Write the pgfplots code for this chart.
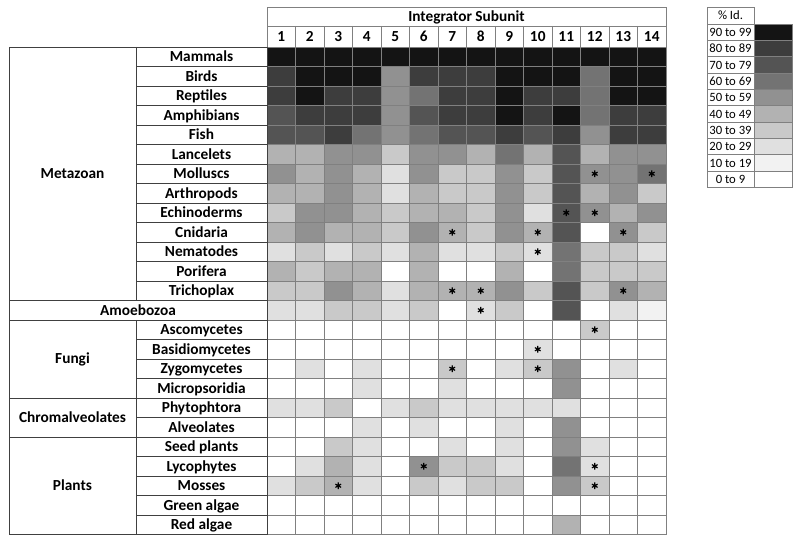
\documentclass[border=0pt]{standalone}
\usepackage{fontspec}
\setmainfont{Carlito}
\usepackage{pgfplots}
\usepackage{pgfplotstable}
\pgfplotsset{compat=1.18}

% grey shades of the % identity classes, lv0 = 0 to 9 ... lv9 = 90 to 99
\definecolor{lv0}{gray}{1.00}
\definecolor{lv1}{gray}{0.95}
\definecolor{lv2}{gray}{0.88}
\definecolor{lv3}{gray}{0.79}
\definecolor{lv4}{gray}{0.70}
\definecolor{lv5}{gray}{0.57}
\definecolor{lv6}{gray}{0.45}
\definecolor{lv7}{gray}{0.33}
\definecolor{lv8}{gray}{0.24}
\definecolor{lv9}{gray}{0.08}
\definecolor{gridc}{gray}{0.50}
\definecolor{tabc}{gray}{0.25}

% cells marked with an asterisk: subunit, taxon row
\pgfplotstableread{
c r
12 7
14 7
11 9
12 9
7 10
10 10
13 10
10 11
7 13
8 13
13 13
8 14
12 15
10 16
7 17
10 17
6 22
12 22
3 23
12 23
}\stars

\tikzset{
  lab/.style={font=\fontsize{11.5}{13}\selectfont\bfseries, inner sep=0pt, text height=7.5pt, text depth=0pt},
  leg/.style={font=\fontsize{9.5}{11}\selectfont, inner sep=0pt, text height=6.2pt, text depth=0pt},
}

\begin{document}
\begin{tikzpicture}
\begin{axis}[
  width=600pt, height=405.75pt, scale only axis,
  xmin=0, xmax=800, ymin=0, ymax=541, y dir=reverse,
  hide axis, clip=false,
  colormap={idgray}{color=(lv0) color=(lv1) color=(lv2) color=(lv3) color=(lv4)
    color=(lv5) color=(lv6) color=(lv7) color=(lv8) color=(lv9)},
  point meta min=0, point meta max=9,
]
% (subunit, taxon row) [identity class]
\addplot[matrix plot*, mesh/cols=14, point meta=explicit,
  x filter/.expression={267+28.5*(x-0.5)}, y filter/.expression={47+19.5*(y-0.5)}]
  coordinates {
(1,1)[9] (2,1)[9] (3,1)[9] (4,1)[9] (5,1)[9] (6,1)[9] (7,1)[9] (8,1)[9] (9,1)[9] (10,1)[9] (11,1)[9] (12,1)[9] (13,1)[9] (14,1)[9]
(1,2)[8] (2,2)[9] (3,2)[9] (4,2)[9] (5,2)[5] (6,2)[8] (7,2)[8] (8,2)[8] (9,2)[9] (10,2)[9] (11,2)[9] (12,2)[6] (13,2)[9] (14,2)[9]
(1,3)[8] (2,3)[9] (3,3)[8] (4,3)[8] (5,3)[5] (6,3)[6] (7,3)[8] (8,3)[8] (9,3)[9] (10,3)[8] (11,3)[8] (12,3)[6] (13,3)[9] (14,3)[9]
(1,4)[7] (2,4)[8] (3,4)[8] (4,4)[8] (5,4)[5] (6,4)[7] (7,4)[8] (8,4)[8] (9,4)[9] (10,4)[8] (11,4)[9] (12,4)[6] (13,4)[8] (14,4)[8]
(1,5)[7] (2,5)[7] (3,5)[8] (4,5)[6] (5,5)[5] (6,5)[6] (7,5)[7] (8,5)[7] (9,5)[8] (10,5)[7] (11,5)[8] (12,5)[5] (13,5)[8] (14,5)[8]
(1,6)[4] (2,6)[4] (3,6)[5] (4,6)[5] (5,6)[3] (6,6)[5] (7,6)[5] (8,6)[4] (9,6)[6] (10,6)[4] (11,6)[7] (12,6)[4] (13,6)[5] (14,6)[5]
(1,7)[5] (2,7)[4] (3,7)[5] (4,7)[4] (5,7)[2] (6,7)[5] (7,7)[3] (8,7)[3] (9,7)[5] (10,7)[3] (11,7)[7] (12,7)[5] (13,7)[5] (14,7)[6]
(1,8)[4] (2,8)[4] (3,8)[5] (4,8)[4] (5,8)[2] (6,8)[4] (7,8)[3] (8,8)[3] (9,8)[5] (10,8)[3] (11,8)[7] (12,8)[4] (13,8)[5] (14,8)[3]
(1,9)[3] (2,9)[5] (3,9)[5] (4,9)[4] (5,9)[3] (6,9)[4] (7,9)[4] (8,9)[3] (9,9)[5] (10,9)[2] (11,9)[7] (12,9)[5] (13,9)[4] (14,9)[5]
(1,10)[4] (2,10)[5] (3,10)[4] (4,10)[4] (5,10)[3] (6,10)[5] (7,10)[4] (8,10)[3] (9,10)[5] (10,10)[4] (11,10)[7] (12,10)[0] (13,10)[5] (14,10)[3]
(1,11)[2] (2,11)[3] (3,11)[2] (4,11)[3] (5,11)[2] (6,11)[4] (7,11)[2] (8,11)[2] (9,11)[3] (10,11)[2] (11,11)[6] (12,11)[3] (13,11)[3] (14,11)[2]
(1,12)[4] (2,12)[3] (3,12)[4] (4,12)[4] (5,12)[0] (6,12)[4] (7,12)[0] (8,12)[0] (9,12)[4] (10,12)[0] (11,12)[6] (12,12)[3] (13,12)[3] (14,12)[3]
(1,13)[3] (2,13)[3] (3,13)[5] (4,13)[4] (5,13)[2] (6,13)[4] (7,13)[4] (8,13)[4] (9,13)[5] (10,13)[3] (11,13)[7] (12,13)[3] (13,13)[5] (14,13)[4]
(1,14)[2] (2,14)[2] (3,14)[3] (4,14)[3] (5,14)[2] (6,14)[3] (7,14)[0] (8,14)[2] (9,14)[3] (10,14)[0] (11,14)[7] (12,14)[0] (13,14)[2] (14,14)[1]
(1,15)[0] (2,15)[0] (3,15)[0] (4,15)[0] (5,15)[0] (6,15)[0] (7,15)[0] (8,15)[0] (9,15)[0] (10,15)[0] (11,15)[0] (12,15)[3] (13,15)[0] (14,15)[0]
(1,16)[0] (2,16)[0] (3,16)[0] (4,16)[0] (5,16)[0] (6,16)[0] (7,16)[0] (8,16)[0] (9,16)[0] (10,16)[2] (11,16)[0] (12,16)[0] (13,16)[0] (14,16)[0]
(1,17)[0] (2,17)[2] (3,17)[0] (4,17)[2] (5,17)[0] (6,17)[0] (7,17)[3] (8,17)[0] (9,17)[2] (10,17)[3] (11,17)[5] (12,17)[0] (13,17)[2] (14,17)[0]
(1,18)[0] (2,18)[0] (3,18)[0] (4,18)[2] (5,18)[0] (6,18)[0] (7,18)[2] (8,18)[0] (9,18)[0] (10,18)[0] (11,18)[5] (12,18)[0] (13,18)[0] (14,18)[0]
(1,19)[2] (2,19)[2] (3,19)[3] (4,19)[0] (5,19)[2] (6,19)[3] (7,19)[2] (8,19)[2] (9,19)[2] (10,19)[2] (11,19)[2] (12,19)[0] (13,19)[0] (14,19)[0]
(1,20)[0] (2,20)[0] (3,20)[0] (4,20)[2] (5,20)[0] (6,20)[2] (7,20)[0] (8,20)[0] (9,20)[2] (10,20)[0] (11,20)[5] (12,20)[0] (13,20)[0] (14,20)[0]
(1,21)[0] (2,21)[0] (3,21)[3] (4,21)[2] (5,21)[0] (6,21)[0] (7,21)[2] (8,21)[0] (9,21)[2] (10,21)[0] (11,21)[5] (12,21)[2] (13,21)[0] (14,21)[0]
(1,22)[0] (2,22)[2] (3,22)[4] (4,22)[2] (5,22)[0] (6,22)[5] (7,22)[3] (8,22)[3] (9,22)[2] (10,22)[0] (11,22)[6] (12,22)[2] (13,22)[0] (14,22)[0]
(1,23)[2] (2,23)[3] (3,23)[4] (4,23)[2] (5,23)[0] (6,23)[3] (7,23)[2] (8,23)[3] (9,23)[3] (10,23)[0] (11,23)[5] (12,23)[3] (13,23)[0] (14,23)[0]
(1,24)[0] (2,24)[0] (3,24)[0] (4,24)[0] (5,24)[0] (6,24)[0] (7,24)[0] (8,24)[0] (9,24)[0] (10,24)[0] (11,24)[0] (12,24)[0] (13,24)[0] (14,24)[0]
(1,25)[0] (2,25)[0] (3,25)[0] (4,25)[0] (5,25)[0] (6,25)[0] (7,25)[0] (8,25)[0] (9,25)[0] (10,25)[0] (11,25)[4] (12,25)[0] (13,25)[0] (14,25)[0]
};

\addplot[only marks, mark=asterisk, mark size=2.5pt, mark options={line width=0.9pt, black},
  x filter/.expression={267+28.5*(x-0.5)}, y filter/.expression={47+19.5*(y-0.5)}]
  table[x=c, y=r] {\stars};

\pgfplotsextra{
  \path (axis cs:0,0) rectangle (axis cs:800,541);
  % heat map grid and header
  \foreach \i in {0,...,14}
    \draw[gridc, line width=0.6pt] (axis cs:{267+28.5*\i},26) -- (axis cs:{267+28.5*\i},534.5);
  \foreach \j in {0,...,25}
    \draw[gridc, line width=0.6pt] (axis cs:267,{47+19.5*\j}) -- (axis cs:666,{47+19.5*\j});
  \draw[gridc, line width=0.6pt] (axis cs:267,7.3) rectangle (axis cs:666,26);
  \node[lab] at (axis cs:466.5,16.6) {Integrator Subunit};
  \foreach \i in {1,...,14}
    \node[lab] at (axis cs:{267+28.5*(\i-0.5)},36.5) {\i};
  % taxon table
  \foreach \j in {0,...,25}
    \draw[tabc, line width=0.6pt] (axis cs:136,{47+19.5*\j}) -- (axis cs:267,{47+19.5*\j});
  \foreach \y in {47,300.5,320,398,437,534.5}
    \draw[tabc, line width=0.6pt] (axis cs:9,\y) -- (axis cs:136,\y);
  \draw[tabc, line width=0.6pt] (axis cs:9,47) -- (axis cs:9,534.5);
  \draw[tabc, line width=0.6pt] (axis cs:136,47) -- (axis cs:136,300.5);
  \draw[tabc, line width=0.6pt] (axis cs:136,320) -- (axis cs:136,534.5);
  \draw[tabc, line width=0.6pt] (axis cs:267,47) -- (axis cs:267,534.5);
  \foreach \j/\n in {1/Mammals,2/Birds,3/Reptiles,4/Amphibians,5/Fish,6/Lancelets,
      7/Molluscs,8/Arthropods,9/Echinoderms,10/Cnidaria,11/Nematodes,12/Porifera,
      13/Trichoplax,15/Ascomycetes,16/Basidiomycetes,17/Zygomycetes,18/Micropsoridia,
      19/Phytophtora,20/Alveolates,21/Seed plants,22/Lycophytes,23/Mosses,
      24/Green algae,25/Red algae}
    \node[lab] at (axis cs:201.5,{47+19.5*(\j-0.5)}) {\n};
  \node[lab] at (axis cs:72.5,173.75) {Metazoan};
  \node[lab] at (axis cs:138,310.25) {Amoebozoa};
  \node[lab] at (axis cs:72.5,359) {Fungi};
  \node[lab] at (axis cs:72.5,417.5) {Chromalveolates};
  \node[lab] at (axis cs:72.5,485.75) {Plants};
  % key
  \draw[gridc, line width=0.6pt] (axis cs:707,7.3) rectangle (axis cs:754,24);
  \node[leg] at (axis cs:730.5,15.6) {\% Id.};
  \foreach \k/\c/\t in {0/9/90 to 99,1/8/80 to 89,2/7/70 to 79,3/6/60 to 69,4/5/50 to 59,
      5/4/40 to 49,6/3/30 to 39,7/2/20 to 29,8/1/10 to 19,9/0/0 to 9} {
    \fill[lv\c] (axis cs:754,{24+16.35*\k}) rectangle (axis cs:792,{24+16.35*(\k+1)});
    \draw[gridc, line width=0.6pt] (axis cs:707,{24+16.35*\k}) rectangle (axis cs:754,{24+16.35*(\k+1)});
    \draw[gridc, line width=0.6pt] (axis cs:754,{24+16.35*\k}) rectangle (axis cs:792,{24+16.35*(\k+1)});
    \node[leg] at (axis cs:730.5,{24+16.35*(\k+0.5)}) {\t};
  }
}
\end{axis}
\end{tikzpicture}
\end{document}
